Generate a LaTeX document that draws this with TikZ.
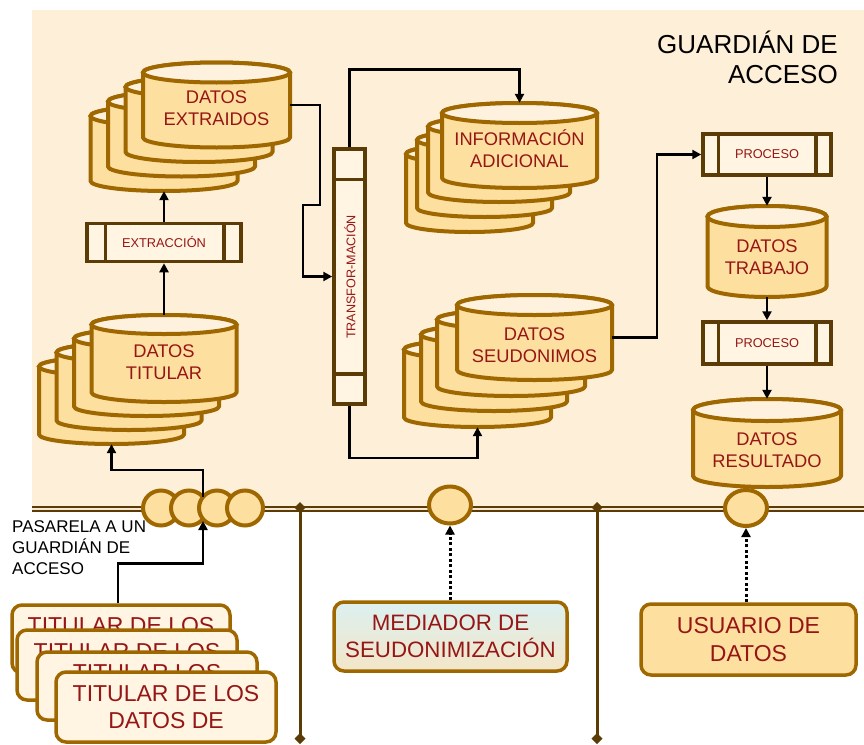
\documentclass[tikz,border=0pt]{standalone}
\usepackage{fontspec}
\setmainfont{Liberation Sans}
\usetikzlibrary{arrows.meta,shapes.geometric,shadings}
\definecolor{bgc}{RGB}{254,240,216}
\definecolor{cylfill}{RGB}{253,223,160}
\definecolor{cyltopc}{RGB}{254,241,222}
\definecolor{gold}{RGB}{158,103,0}
\definecolor{dbrown}{RGB}{92,60,6}
\definecolor{txtred}{RGB}{150,22,22}
\definecolor{boxcream}{RGB}{255,245,226}
\definecolor{medcyan}{RGB}{220,240,240}
\definecolor{medbeige}{RGB}{243,230,200}
\definecolor{busmid}{RGB}{245,232,210}

\tikzset{
  cylbody/.style={fill=cylfill, draw=gold, line width=4pt, line join=round},
  cyltop/.style={fill=cyltopc, draw=gold, line width=4pt},
  cyltext/.style={text=txtred, align=center, font=\fontsize{18.3}{21.7}\selectfont, inner sep=0pt},
  procbox/.style={draw=dbrown, fill=boxcream, line width=3.5pt, text=txtred, inner sep=0pt, font=\fontsize{12.8}{15}\selectfont},
  procline/.style={draw=dbrown, line width=3.5pt},
  arr/.style={draw=black, line width=2.5pt, -{Triangle[length=9pt,width=9pt]}},
  dotarr/.style={draw=black, line width=3pt, dash pattern=on 3pt off 2.5pt, -{Triangle[length=9pt,width=9pt]}},
  port/.style={ellipse, draw=gold, fill=cylfill, line width=4pt, inner sep=0pt},
  titbox/.style={draw=gold, fill=boxcream, line width=3.5pt, rounded corners=10pt, text=txtred, align=center, inner sep=0pt, font=\fontsize{23}{27}\selectfont, minimum width=218, minimum height=68},
  actorbox/.style={draw=gold, line width=3.5pt, rounded corners=10pt, text=txtred, align=center, inner sep=0pt},
  lifeline/.style={draw=dbrown, line width=3pt, {Diamond[length=11pt,width=11pt]}-{Diamond[length=11pt,width=11pt]}},
}

% #1 name, #2 cx, #3 ytop, #4 w, #5 h, #6 ry, #7 text, #8 text dy
\newcommand{\cylnd}[8]{%
  \path[cylbody] ({#2-#4/2},{#3+#6}) -- ({#2-#4/2},{#3+#5-#6})
     arc[start angle=180,end angle=0,x radius={#4/2},y radius=#6]
     -- ({#2+#4/2},{#3+#6})
     arc[start angle=0,end angle=-180,x radius={#4/2},y radius=#6] -- cycle;
  \path[cyltop] (#2,{#3+#6}) ellipse[x radius={#4/2},y radius=#6];
  \node[inner sep=0pt,minimum width=#4,minimum height=#5] (#1) at (#2,{#3+#5/2}) {};
  \node[cyltext] (#1-t) at (#2,{#3+#5/2+#8}) {#7};
}

\begin{document}
\begin{tikzpicture}[x=1pt,y=-1pt]
\useasboundingbox (0,0) rectangle (864,744);
\fill[white] (0,0) rectangle (864,744);
\fill[bgc] (32,9.5) rectangle (864,506);

% bus line
\coordinate (busl) at (32,509);
\coordinate (busr) at (864,509);
\draw[draw=dbrown, line width=2pt, double=busmid, double distance=2pt] (busl) -- (busr);

% lifelines
\coordinate (l1t) at (300,502);
\coordinate (l1b) at (300,744);
\coordinate (l2t) at (597,502);
\coordinate (l2b) at (597,744);
\draw[lifeline] (l1t) -- (l1b);
\draw[lifeline] (l2t) -- (l2b);

% ports
\node[port, minimum width=36, minimum height=35] (g1) at (161,508) {};
\node[port, minimum width=36, minimum height=35] (g2) at (189,508) {};
\node[port, minimum width=36, minimum height=35] (g3) at (217,508) {};
\node[port, minimum width=36, minimum height=35] (g4) at (245,508) {};
\node[port, minimum width=42, minimum height=37] (c1) at (450,505) {};
\node[port, minimum width=42, minimum height=36] (c2) at (746,508) {};

% DATOS TITULAR stack
\cylnd{tit4}{111.5}{357}{145}{87}{9.5}{}{0}
\cylnd{tit3}{129}{343}{145}{87}{9.5}{}{0}
\cylnd{tit2}{146.5}{329}{145}{87}{9.5}{}{0}
\cylnd{tit}{164}{315}{145}{87}{9.5}{DATOS\\TITULAR}{4}

% DATOS EXTRAIDOS stack
\cylnd{ext4}{164}{106}{147}{85}{10}{}{0}
\cylnd{ext3}{181.5}{91.5}{147}{85}{10}{}{0}
\cylnd{ext2}{199}{77}{147}{85}{10}{}{0}
\cylnd{ext}{216.5}{62.5}{147}{85}{10}{DATOS\\EXTRAIDOS}{3}

% INFORMACION ADICIONAL stack
\cylnd{inf4}{469.5}{145}{127}{87}{9}{}{0}
\cylnd{inf3}{484.5}{131}{135}{86}{9}{}{0}
\cylnd{inf2}{499}{117}{142}{85}{9.5}{}{0}
\cylnd{inf}{519.5}{103}{155}{85}{10}{INFORMACIÓN\\ADICIONAL}{3}

% DATOS SEUDONIMOS stack
\cylnd{seu4}{477.5}{340}{147}{87}{9.5}{}{0}
\cylnd{seu3}{494}{325}{146}{86}{9.5}{}{0}
\cylnd{seu2}{511}{310}{148}{86}{9.5}{}{0}
\cylnd{seu}{534.5}{295}{155}{85}{10}{DATOS\\SEUDONIMOS}{8}

% single cylinders
\cylnd{trab}{767}{206}{119}{91}{10.5}{DATOS\\TRABAJO}{6}
\cylnd{res}{767}{399}{148}{88}{11}{DATOS\\RESULTADO}{7}

% process boxes
\node[procbox, minimum width=154, minimum height=38] (extrac) at (164,242.5) {EXTRACCIÓN};
\draw[procline] ([xshift=20pt]extrac.north west) -- ([xshift=20pt]extrac.south west);
\draw[procline] ([xshift=-19pt]extrac.north east) -- ([xshift=-19pt]extrac.south east);

\node[procbox, minimum width=128, minimum height=41] (proc1) at (767,154.5) {PROCESO};
\draw[procline] ([xshift=17pt]proc1.north west) -- ([xshift=17pt]proc1.south west);
\draw[procline] ([xshift=-17pt]proc1.north east) -- ([xshift=-17pt]proc1.south east);

\node[procbox, minimum width=128, minimum height=42] (proc2) at (767,343) {PROCESO};
\draw[procline] ([xshift=17pt]proc2.north west) -- ([xshift=17pt]proc2.south west);
\draw[procline] ([xshift=-17pt]proc2.north east) -- ([xshift=-17pt]proc2.south east);

\node[procbox, minimum width=31, minimum height=255] (transf) at (349.5,276.5) {};
\draw[procline] ([yshift=-32pt]transf.north west) -- ([yshift=-32pt]transf.north east);
\draw[procline] ([yshift=32pt]transf.south west) -- ([yshift=32pt]transf.south east);
\node[rotate=90, text=txtred, inner sep=0pt, font=\fontsize{12.6}{15}\selectfont] (transf-t) at (350,277) {TRANSFOR-MACIÓN};

% connectors
\draw[arr] (tit.north) -- (extrac.south);
\draw[arr] (extrac.north) -- (ext4.south);
\draw[arr] (ext.east) -- ++(30,0) -- ++(0,100) -- ++(-17,0) |- (transf.west);
\draw[arr] (transf.north) -- ++(0,-78) -| (inf.north);
\draw[arr] (transf.south) -- ++(0,52) -| (seu4.south);
\draw[arr] (seu.east) -- ++(45,0) |- (proc1.west);
\draw[arr] (proc1.south) -- (trab.north);
\draw[arr] (trab.south) -- (proc2.north);
\draw[arr] (proc2.south) -- (res.north);

% titular boxes
\node[titbox] (titb1) at (121,639) {TITULAR DE LOS\\DATOS DE};
\node[titbox, minimum width=220, minimum height=70] (titb2) at (127,665) {TITULAR DE LOS\\DATOS DE};
\node[titbox, minimum width=220, minimum height=68] (titb3) at (147,686) {TITULAR LOS\\DATOS DE};
\node[titbox, minimum width=220, minimum height=70] (titb4) at (166,707) {TITULAR DE LOS\\DATOS DE};

% gateway connectors
\coordinate (gwtop) at (203,497);
\coordinate (gwbot) at (203,521);
\draw[arr] (gwtop) -- ++(0,-27) -| (tit4.south);
\draw[arr] ([xshift=-3pt]titb1.north) -- ++(0,-40) -| (gwbot);

% actors
\node[actorbox, top color=medcyan, bottom color=medbeige, minimum width=233, minimum height=69, font=\fontsize{22.3}{27.5}\selectfont] (med) at (450.5,636.5) {MEDIADOR DE\\SEUDONIMIZACIÓN};
\node[actorbox, fill=cylfill, minimum width=215, minimum height=71, font=\fontsize{23}{28}\selectfont] (usr) at (748.5,639.5) {USUARIO DE\\DATOS};
\draw[dotarr] (med.north -| c1.south) -- (c1.south);
\draw[dotarr] (usr.north -| c2.south) -- (c2.south);

% labels
\node[anchor=east, inner sep=0pt, align=right, font=\fontsize{26}{30}\selectfont] (title) at (838,57) {GUARDIÁN DE\\ACCESO};
\node[anchor=west, inner sep=0pt, align=left, font=\fontsize{17}{21}\selectfont] (gwlabel) at (12,548) {PASARELA A UN\\GUARDIÁN DE\\ACCESO};
\end{tikzpicture}
\end{document}
